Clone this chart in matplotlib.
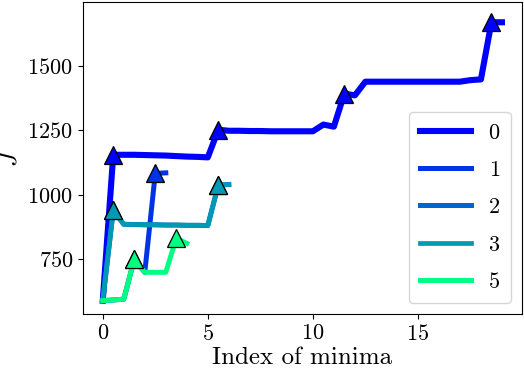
import matplotlib
matplotlib.use("Agg")
import matplotlib.pyplot as plt
import numpy as np

plt.rcParams['font.family'] = ['cmr10', 'DejaVu Serif']
plt.rcParams['mathtext.fontset'] = 'cm'
plt.rcParams['axes.formatter.use_mathtext'] = True

labels = ["0", "1", "2", "3", "5"]
color_pos = [0, 1, 2, 3, 5]

x0 = [0, 0.5, 1, 1.5, 2, 2.5, 3, 3.5, 4, 4.5, 5, 5.5, 6, 6.5, 7, 7.5, 8, 8.5, 9, 9.5,
      10, 10.5, 11, 11.5, 12, 12.5, 13, 13.5, 14, 14.5, 15, 15.5, 16, 16.5, 17, 17.5,
      18, 18.5, 19]
y0 = [590, 1155, 1155, 1155, 1154, 1153, 1152, 1150, 1148, 1147, 1145, 1252, 1248, 1248,
      1247, 1247, 1246, 1246, 1246, 1246, 1246, 1272, 1264, 1392, 1385, 1438, 1438, 1438,
      1438, 1438, 1438, 1438, 1438, 1438, 1438, 1444, 1447, 1668, 1668]
m0 = [1, 11, 23, 37]

x1 = [0, 0.5, 1, 1.5, 2, 2.5, 3]
y1 = [590, 593, 596, 750, 700, 1083, 1085]
m1 = [3, 5]

x2 = [0, 0.5, 1, 1.5, 2, 2.5, 3, 3.5, 4, 4.5, 5, 5.5, 6]
y2 = [590, 940, 886, 885, 884, 884, 883, 883, 882, 882, 881, 1038, 1040]
m2 = [1, 11]

x3 = [0, 0.5, 1, 1.5, 2, 2.5, 3, 3.5, 4, 4.5, 5, 5.5, 6]
y3 = [590, 940, 886, 885, 884, 884, 883, 883, 882, 882, 881, 1038, 1040]
m3 = [1, 11]

x5 = [0, 0.5, 1, 1.5, 2, 2.5, 3, 3.5, 4]
y5 = [590, 593, 596, 750, 700, 700, 700, 832, 812]
m5 = [3, 7]

xs = [x0, x1, x2, x3, x5]
ys = [y0, y1, y2, y3, y5]
ms = [m0, m1, m2, m3, m5]
lws = [4.4, 3.6, 3.6, 3.4, 3.6]

fig = plt.figure(figsize=(5.24, 3.74), dpi=100)
ax = fig.add_axes([0.158, 0.160, 0.838, 0.835])
cmap = plt.get_cmap('winter')
for lab, cp, x, y, m, lw in zip(labels, color_pos, xs, ys, ms, lws):
    c = cmap(cp / 5)
    ax.plot(x, y, color=c, lw=lw, label=lab, marker='^', markevery=m,
            markersize=13, markerfacecolor=c, markeredgecolor='black',
            markeredgewidth=0.9)

ax.set_xlim(-0.95, 19.95)
ax.set_ylim(538, 1747)
ax.set_xticks([0, 5, 10, 15])
ax.set_yticks([750, 1000, 1250, 1500])
ax.tick_params(labelsize=16)
ax.set_xlabel('Index of minima', fontsize=18, labelpad=2)
ax.set_ylabel('$J$', fontsize=18, labelpad=4)
leg = ax.legend(loc='lower right', fontsize=16, handlelength=2.3, labelspacing=0.8,
                borderpad=0.5)
for h in leg.legend_handles:
    h.set_marker('')
fig.savefig('out.png', dpi=100)
